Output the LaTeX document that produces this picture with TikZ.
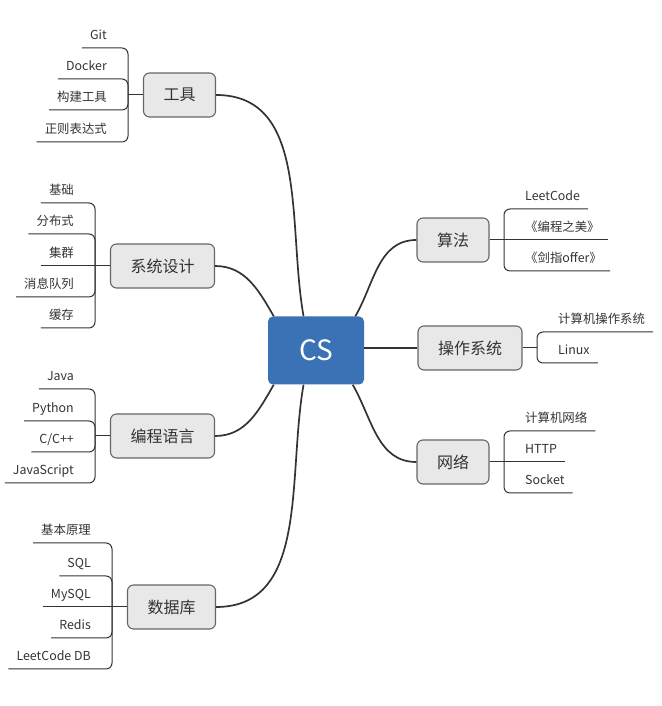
\documentclass[tikz,border=0pt]{standalone}
\usepackage{fontspec}
\setmainfont{Noto Sans CJK SC}
\definecolor{csblue}{RGB}{59,113,181}
\definecolor{topicgray}{RGB}{232,232,232}
\definecolor{inkgray}{RGB}{51,51,51}
\begin{document}
\begin{tikzpicture}[x=1pt,y=1pt,
  topic/.style={draw=inkgray!75,fill=topicgray,line width=1.1pt,rounded corners=6pt,inner xsep=20pt,minimum height=44pt,text=inkgray,font=\fontsize{16}{19}\selectfont},
  leafL/.style={anchor=south east,inner xsep=8pt,inner ysep=0pt,text depth=8.5pt,text=inkgray,font=\fontsize{12.4}{14}\selectfont},
  leafR/.style={leafL,anchor=south west},
  trunk/.style={draw=inkgray,line width=1.7pt},
  twig/.style={draw=inkgray,line width=1pt,rounded corners=6pt}]
\useasboundingbox (0,0) rectangle (661,706);
\node[fill=csblue,rounded corners=5pt,minimum width=96pt,minimum height=68pt,text=white,font=\fontsize{28}{32}\selectfont] (cs) at (316,355.5) {CS};
\node[topic] (tool) at (179.5,611) {工具};
\node[topic] (sys) at (162.5,440) {系统设计};
\node[topic] (lang) at (162.5,270) {编程语言};
\node[topic] (db) at (171.5,99) {数据库};
\node[topic] (algo) at (453,466) {算法};
\node[topic] (os) at (470,358) {操作系统};
\node[topic] (net) at (453,244) {网络};
\draw[trunk] (tool.east) to[out=0,in=100] (cs.110);
\draw[trunk] (sys.east) to[out=0,in=120] (cs.141);
\draw[trunk] (lang.east) to[out=0,in=240] (cs.219);
\draw[trunk] (db.east) to[out=0,in=260] (cs.250);
\draw[trunk] (algo.west) to[out=180,in=60] (cs.41);
\draw[trunk] (os.west) -- (os.west -| cs.east);
\draw[trunk] (net.west) to[out=180,in=300] (cs.-43);
\coordinate (tj) at (128,611);
\node[leafL] (t1) at (115,658) {Git};
\node[leafL] (t2) at (115,627) {Docker};
\node[leafL] (t3) at (115,596) {构建工具};
\node[leafL] (t4) at (115,564) {正则表达式};
\draw[twig] (t1.south west) -- (t1.south west -| tj) -- (tj);\draw[twig] (t2.south west) -- (t2.south west -| tj) -- (tj);
\draw[twig] (t3.south west) -- (t3.south west -| tj) -- (tj);\draw[twig] (t4.south west) -- (t4.south west -| tj) -- (tj);
\draw[twig] (tj) -- (tool.west);
\coordinate (sj) at (95,440);
\node[leafL] (s1) at (82,503) {基础};
\node[leafL] (s2) at (82,472) {分布式};
\node[leafL] (s3) at (82,440) {集群};
\node[leafL] (s4) at (82,409) {消息队列};
\node[leafL] (s5) at (82,378) {缓存};
\draw[twig] (s1.south west) -- (s1.south west -| sj) -- (sj);\draw[twig] (s2.south west) -- (s2.south west -| sj) -- (sj);
\draw[twig] (s3.south west) -- (sj);
\draw[twig] (s4.south west) -- (s4.south west -| sj) -- (sj);\draw[twig] (s5.south west) -- (s5.south west -| sj) -- (sj);
\draw[twig] (sj) -- (sys.west);
\coordinate (lj) at (95,270);
\node[leafL] (l1) at (82,317) {Java};
\node[leafL] (l2) at (82,285) {Python};
\node[leafL] (l3) at (82,254) {C/C++};
\node[leafL] (l4) at (82,223) {JavaScript};
\draw[twig] (l1.south west) -- (l1.south west -| lj) -- (lj);\draw[twig] (l2.south west) -- (l2.south west -| lj) -- (lj);
\draw[twig] (l3.south west) -- (l3.south west -| lj) -- (lj);\draw[twig] (l4.south west) -- (l4.south west -| lj) -- (lj);
\draw[twig] (lj) -- (lang.west);
\coordinate (dj) at (112,99);
\node[leafL] (d1) at (99,163) {基本原理};
\node[leafL] (d2) at (99,130) {SQL};
\node[leafL] (d3) at (99,99) {MySQL};
\node[leafL] (d4) at (99,68) {Redis};
\node[leafL] (d5) at (99,37) {LeetCode DB};
\draw[twig] (d1.south west) -- (d1.south west -| dj) -- (dj);\draw[twig] (d2.south west) -- (d2.south west -| dj) -- (dj);
\draw[twig] (d3.south west) -- (dj);
\draw[twig] (d4.south west) -- (d4.south west -| dj) -- (dj);\draw[twig] (d5.south west) -- (d5.south west -| dj) -- (dj);
\draw[twig] (dj) -- (db.west);
\coordinate (aj) at (504,466);
\node[leafR] (a1) at (517,497) {LeetCode};
\node[leafR] (a2) at (517,466) {《编程之美》};
\node[leafR] (a3) at (517,435) {《剑指offer》};
\draw[twig] (a1.south east) -- (a1.south east -| aj) -- (aj);\draw[twig] (a2.south east) -- (aj);
\draw[twig] (a3.south east) -- (a3.south east -| aj) -- (aj);
\draw[twig] (aj) -- (algo.east);
\coordinate (oj) at (537,358);
\node[leafR] (o1) at (550,374) {计算机操作系统};
\node[leafR] (o2) at (550,343) {Linux};
\draw[twig] (o1.south east) -- (o1.south east -| oj) -- (oj);\draw[twig] (o2.south east) -- (o2.south east -| oj) -- (oj);
\draw[twig] (oj) -- (os.east);
\coordinate (nj) at (504,244);
\node[leafR] (n1) at (517,275) {计算机网络};
\node[leafR] (n2) at (517,244) {HTTP};
\node[leafR] (n3) at (517,213) {Socket};
\draw[twig] (n1.south east) -- (n1.south east -| nj) -- (nj);\draw[twig] (n2.south east) -- (nj);
\draw[twig] (n3.south east) -- (n3.south east -| nj) -- (nj);
\draw[twig] (nj) -- (net.east);
\end{tikzpicture}
\end{document}
